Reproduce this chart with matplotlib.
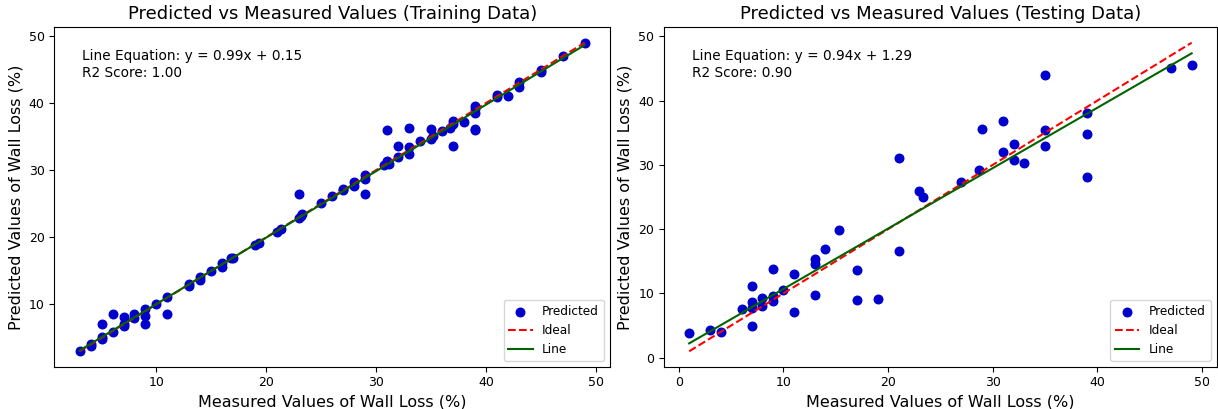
import matplotlib
matplotlib.use("Agg")
import matplotlib.pyplot as plt
import numpy as np

# training set: measured vs predicted wall loss (%)
train_measured = [3, 4, 4, 5, 5, 5, 6, 6, 7, 7, 7, 8, 8, 9, 9, 9, 10, 11, 11,
                  13, 13, 14, 14, 15, 16, 16, 16.8, 17, 19, 19.3, 21, 21.3,
                  23, 23.2, 23.3, 23, 25, 26, 27, 27, 28, 28, 29, 29, 29,
                  30.7, 31, 31.2, 31, 31, 32, 32, 33, 33, 33, 34, 35, 35, 35.2,
                  36, 36.7, 37, 37, 37, 38, 39, 39, 39, 39, 39, 41, 41, 42,
                  43, 43, 45, 45, 47, 49]
train_predicted = [3.1, 4.1, 3.85, 4.85, 5.2, 7.0, 5.85, 8.6, 6.7, 7.1, 8.1, 8.0, 8.6,
                   8.2, 9.35, 7.0, 10.0, 11.1, 8.6, 13.1, 12.7, 14.1, 13.7, 15.0,
                   16.1, 15.6, 16.85, 16.95, 18.8, 19.1, 20.85, 21.2, 22.85, 23.1,
                   23.5, 26.5, 25.1, 26.2, 27.0, 27.2, 28.2, 27.6, 29.35, 28.7, 26.5,
                   30.7, 31.1, 30.85, 31.35, 35.95, 33.6, 31.95, 33.5, 32.4, 36.25,
                   34.3, 36.2, 34.6, 35.1, 35.85, 36.35, 36.85, 37.35, 33.6, 37.25,
                   39.5, 39.1, 38.45, 36.2, 35.95, 41.2, 40.85, 41.1, 43.1, 42.35,
                   45.0, 44.7, 47.0, 48.9]

# testing set
test_measured = [1, 3, 4, 6, 7, 7, 7, 7, 8, 8, 9, 9, 9, 10, 11, 11, 13, 13, 13,
                 14, 15.3, 17, 17, 19, 21, 21, 23, 23.3, 27, 28.7, 29, 31, 31,
                 32, 32, 33, 35, 35, 35, 39, 39, 39, 47, 49]
test_predicted = [3.85, 4.3, 4.0, 7.5, 5.0, 7.7, 8.6, 11.2, 8.0, 9.3, 8.75, 9.55,
                  13.75, 10.6, 7.1, 13.0, 9.8, 14.6, 15.3, 16.95, 19.8, 13.6,
                  9.05, 9.15, 31.0, 16.55, 26.0, 25.0, 27.3, 29.2, 35.5, 36.8,
                  32.0, 33.3, 30.8, 30.3, 43.9, 35.4, 33.0, 38.1, 34.8, 28.1,
                  45.05, 45.6]

# fitted line parameters as shown on the chart
train_fit = (0.99, 0.15, 1.00)
test_fit = (0.94, 1.29, 0.90)


def draw(ax, measured, predicted, fit, title):
    slope, intercept, r2 = fit
    measured = np.array(measured)
    predicted = np.array(predicted)
    xs = np.array([measured.min(), measured.max()])
    ax.scatter(measured, predicted, color='mediumblue', s=38, label='Predicted')
    ax.plot(xs, xs, 'r--', label='Ideal')
    ax.plot(xs, slope * xs + intercept, color='darkgreen', label='Line')
    ax.set_title(title, fontsize=13)
    ax.set_xlabel('Measured Values of Wall Loss (%)', fontsize=11.5)
    ax.set_ylabel('Predicted Values of Wall Loss (%)', fontsize=11.5)
    ax.tick_params(labelsize=9)
    ax.text(0.05, 0.935, f'Line Equation: y = {slope:.2f}x + {intercept:.2f}\nR2 Score: {r2:.2f}',
            transform=ax.transAxes, va='top', fontsize=9.8)
    ax.legend(loc='lower right', fontsize=8.7)


fig = plt.figure(figsize=(12.18, 4.09), dpi=100)
ax1 = fig.add_axes([0.0446, 0.1034, 0.4562, 0.8299])
ax2 = fig.add_axes([0.5452, 0.1034, 0.4538, 0.8299])

draw(ax1, train_measured, train_predicted, train_fit, 'Predicted vs Measured Values (Training Data)')
draw(ax2, test_measured, test_predicted, test_fit, 'Predicted vs Measured Values (Testing Data)')

fig.savefig('out.png', dpi=100)
